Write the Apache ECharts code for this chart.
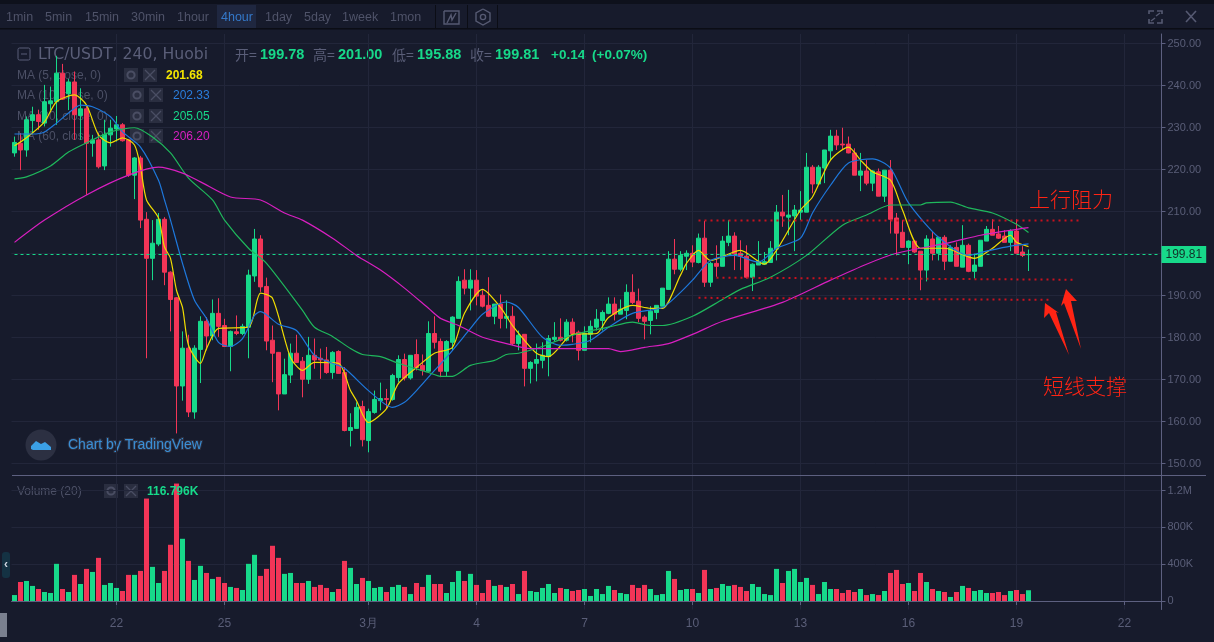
<!DOCTYPE html>
<html>
<head>
<meta charset="utf-8">
<style>html,body{margin:0;padding:0;background:#171b2c;}#main{width:1214px;height:642px;}</style>
<script src="https://cdn.jsdelivr.net/npm/echarts@6/dist/echarts.min.js"></script>
</head>
<body>
<div id="main"></div>
<script>
// 4 hour candles
var opens = [224.0,226.3,224.7,231.7,233.1,231.1,235.7,236.2,243.0,238.1,240.9,232.9,234.5,226.3,227.1,220.9,228.3,229.7,230.7,227.1,
218.7,222.8,208.2,198.9,202.3,208.2,195.6,189.5,168.5,177.5,162.3,177.2,183.9,180.4,185.8,182.9,177.9,181.4,181.0,182.5,
194.7,203.5,192.2,179.4,176.5,166.6,171.1,176.3,174.4,170.1,175.8,175.1,174.7,171.7,176.7,171.7,157.9,158.4,163.6,155.5,
162.2,165.0,165.5,165.3,170.5,174.8,170.4,176.0,173.4,172.0,181.0,179.1,172.0,178.9,184.6,193.7,191.8,193.7,190.1,187.7,
185.1,188.0,184.6,185.1,178.6,180.8,172.7,173.9,174.6,175.5,179.6,180.1,179.4,183.7,181.3,177.0,180.8,182.5,184.1,185.8,
188.0,185.6,186.5,190.8,188.7,184.9,184.1,186.0,187.5,191.5,198.7,196.3,199.4,200.1,197.9,203.7,193.2,197.7,197.0,202.7,
204.2,200.1,199.4,194.4,197.3,197.5,197.9,201.1,209.9,208.7,209.0,209.9,209.9,220.6,216.6,220.4,224.5,228.0,226.1,226.1,
224.0,218.7,219.7,216.8,219.5,213.7,219.9,208.5,205.1,201.5,203.0,200.6,196.1,203.5,200.1,203.9,198.2,201.5,196.8,202.0,
195.8,197.0,203.0,205.8,204.7,204.2,202.7,205.4,200.4,199.78];
var closes = [226.5,224.7,231.9,233.1,231.5,236.2,236.4,243.0,236.8,240.9,233.1,234.5,226.3,227.1,220.7,228.4,229.9,230.7,226.9,218.7,
222.8,208.0,198.9,202.5,208.2,195.6,189.1,168.5,177.5,162.3,177.5,183.9,180.4,185.8,182.7,177.9,181.5,181.0,182.7,194.9,
203.5,192.1,179.2,176.3,166.6,171.2,176.3,174.1,170.1,175.8,174.7,174.7,171.7,176.5,171.5,157.9,158.6,163.4,155.7,162.4,
165.3,165.5,165.3,171.0,174.8,170.4,175.8,172.9,172.2,181.0,178.9,172.0,179.1,184.9,193.4,191.8,193.7,189.9,187.5,185.1,
188.0,184.6,185.1,178.6,180.6,172.7,174.1,174.8,175.8,179.8,180.1,179.4,183.7,181.0,177.0,181.0,182.7,184.4,186.0,188.0,
185.6,186.8,190.8,188.4,184.6,183.9,186.3,187.7,191.8,198.7,196.3,199.6,200.1,198.0,203.7,193.2,197.7,197.0,203.0,204.2,
199.9,199.4,194.4,197.5,198.2,198.1,201.3,209.9,209.0,209.2,210.4,210.4,220.6,216.6,220.6,224.7,228.0,225.9,225.9,224.0,
218.7,219.7,216.8,219.7,213.7,219.9,208.2,204.9,201.5,203.0,200.4,196.1,203.5,200.1,203.9,198.2,201.5,197.0,202.0,195.8,
197.3,203.2,205.8,204.4,203.7,202.7,205.4,200.1,199.6,199.81];
var lows = [223.1,219.9,223.1,228.7,229.5,230.3,234.2,230.7,236.6,234.2,227.1,227.1,214.0,223.1,220.3,219.9,225.5,226.7,226.7,218.3,
213.0,206.1,175.1,193.7,201.8,192.5,181.5,157.2,165.0,161.1,160.7,169.2,177.0,179.4,180.2,177.8,172.0,180.6,180.6,175.1,
193.3,190.9,177.0,169.4,162.7,166.6,169.2,174.1,165.8,169.0,172.6,170.2,171.4,170.2,171.5,157.7,154.1,158.4,154.1,152.7,
161.9,162.7,163.1,165.0,169.4,169.8,170.0,172.2,171.0,172.0,177.4,170.6,170.8,177.0,184.6,190.3,186.5,187.7,187.2,184.9,
183.2,182.2,182.2,178.2,177.0,168.4,169.1,169.6,172.7,170.8,179.1,179.1,179.1,178.9,174.6,177.0,178.9,181.7,181.7,185.6,
184.1,185.6,184.4,188.0,183.7,179.6,180.8,184.4,187.5,191.5,195.1,195.8,196.1,196.8,197.7,192.1,192.1,194.5,197.0,201.8,
196.1,196.1,194.1,191.1,197.3,197.3,197.9,198.4,206.4,204.4,200.6,208.0,209.9,214.4,216.6,216.8,222.3,224.7,224.7,223.9,
218.7,214.9,216.3,214.9,213.7,212.3,204.8,199.6,201.4,197.5,200.2,191.3,193.4,198.4,198.4,196.1,198.2,197.0,196.8,195.6,
194.1,197.0,203.0,204.4,203.5,202.7,200.6,200.1,199.2,195.88];
var highs = [227.9,228.7,232.7,235.0,234.3,240.2,239.8,247.1,245.2,241.6,243.4,239.4,235.2,228.3,228.7,231.9,231.9,232.8,231.1,227.2,
223.0,223.3,209.9,208.0,209.7,208.7,195.8,189.7,181.5,180.7,178.2,185.1,184.9,189.1,189.4,184.5,181.7,185.3,183.3,196.2,
205.9,204.4,194.3,182.9,176.6,175.0,178.6,180.7,175.4,180.2,179.8,177.4,177.8,176.8,177.0,173.0,162.0,164.6,165.0,163.1,
167.4,169.3,167.8,171.4,175.8,176.2,175.8,179.6,176.0,183.9,185.1,179.8,179.4,185.1,194.6,196.3,196.3,196.1,191.3,194.4,
188.0,190.3,188.9,187.5,181.7,180.8,174.4,178.6,178.9,180.6,183.7,184.6,184.4,184.6,181.7,182.7,184.1,186.8,186.5,189.6,
189.6,189.1,192.7,195.1,191.7,185.3,187.5,187.7,191.8,200.6,203.5,200.6,200.8,202.0,204.8,207.8,198.1,202.0,204.2,208.0,
205.1,203.2,202.0,197.7,203.0,200.4,203.0,211.6,214.0,215.2,211.6,214.9,224.0,221.1,221.1,224.7,229.5,229.5,230.0,227.9,
225.1,224.0,222.3,219.9,220.3,219.9,222.3,209.7,208.0,203.2,203.2,200.6,204.4,205.2,204.0,204.4,202.0,202.7,206.8,202.4,
200.0,203.2,206.6,208.2,206.6,205.6,205.8,208.2,201.8,201.0];
// volume in thousands
var volumes = [65,207,218,164,131,98,87,404,131,98,284,185,349,316,469,175,196,142,109,284,
284,327,1113,371,196,327,611,1276,676,436,229,382,305,240,262,196,153,142,120,404,
502,273,349,600,469,295,305,196,196,218,153,175,142,98,131,436,360,185,251,218,
142,153,98,153,175,153,76,196,153,284,185,185,87,207,327,218,295,175,87,229,
164,175,153,185,76,327,109,98,142,185,87,142,131,109,120,131,55,131,76,164,
120,87,76,175,142,175,131,65,76,327,240,120,131,131,87,338,131,142,185,164,
175,153,109,185,153,76,65,349,196,327,349,207,251,175,76,207,131,131,87,120,
98,131,65,76,65,109,305,338,185,196,109,305,207,131,109,98,44,98,164,142,
109,120,87,87,98,65,109,120,76,117];

// moving averages, read at the bar positions in the *Idx lists
var ma5Idx = [0,2,5,7,10,12,14,16,18,20,21,22,24,25,26,27,28,29,31,32,34,39,41,43,46,48,50,54,56,57,59,62,64,67,70,73,75,78,81,83,87,89,93,97,99,103,106,108,111,112,114,116,121,125,127,131,133,136,139,141,143,146,148,151,155,160,163,166,167,169];
var ma5 = [225.7,227.6,231.4,236.2,237.8,235.4,228.3,226.4,227.6,225.9,220.6,212.8,208.5,201.6,198.9,191.3,187.2,178.2,173.9,177.4,182.2,182.5,190.6,189.4,175.3,172.2,174.1,173.9,167.4,165.0,159.8,163.1,169.1,172.9,176.3,177.7,185.8,191.5,187.2,182.9,176.3,175.5,180.8,181.0,184.8,187.7,187.0,187.0,194.9,197.7,200.8,198.4,200.8,197.5,200.8,210.4,213.5,222.3,225.4,222.3,219.5,217.5,210.4,201.3,201.3,198.9,201.3,204.4,202.7,201.68];
var ma10Idx = [0,3,5,7,9,11,13,16,18,21,24,25,26,28,30,32,34,36,38,40,41,44,47,50,53,55,59,63,65,67,70,72,76,78,82,84,88,91,93,96,99,103,108,111,113,116,120,124,127,131,133,136,139,143,146,149,154,159,162,166,169];
var ma10 = [228.5,228.5,229.0,231.1,233.5,235.4,235.0,232.6,229.0,225.4,217.5,212.8,208.0,197.7,188.9,184.6,178.9,177.9,179.8,185.3,186.2,183.2,181.7,175.8,173.9,172.7,167.4,163.4,164.6,167.4,172.2,175.3,182.2,185.6,188.5,187.2,180.1,178.2,178.4,179.4,182.5,185.8,187.2,190.8,193.7,198.4,199.6,198.0,201.3,203.7,209.7,216.3,221.6,222.6,220.4,212.1,203.9,199.6,200.6,201.8,202.33];
var ma30Idx = [0,2,6,9,12,16,20,23,26,29,33,35,39,42,48,50,53,56,58,61,64,69,71,73,76,80,82,84,88,91,94,99,103,106,108,113,118,121,126,132,138,142,146,151,152,156,159,163,167,169];
var ma30 = [217.8,218.3,220.9,224.2,226.4,229.0,230.0,227.8,224.0,218.0,212.8,208.0,201.3,197.7,186.5,182.5,180.3,177.4,176.0,175.5,173.9,171.7,170.8,170.8,173.4,174.6,176.0,176.3,177.9,179.6,181.0,182.5,183.7,182.9,182.9,185.1,189.1,191.5,194.4,199.6,206.8,209.2,211.6,211.6,212.1,212.3,210.9,209.7,207.0,205.05];
var ma60Idx = [0,5,12,19,24,28,31,36,41,45,48,53,57,61,65,69,71,74,78,82,86,99,101,105,109,113,118,128,136,142,147,156,161,167,169];
var ma60 = [202.7,208.0,214.0,218.7,220.6,219.2,217.1,213.5,212.8,209.7,208.0,203.7,199.6,196.1,191.8,187.0,184.6,182.9,180.1,178.6,177.4,177.4,176.7,177.7,178.6,180.8,183.9,188.4,193.7,197.5,200.1,202.7,204.4,205.8,206.2];

var slotCount = 192;
var tickIndex = [17,35,59,77,95,113,131,149,167,185];
var tickLabels = ['22','25','3月','4','7','10','13','16','19','22'];
var priceTicks = [150,160,170,180,190,200,210,220,230,240,250];
var volumeTicks = [0,400,800,1200];
var volumeTickLabels = ['0','400K','800K','1.2M'];
var lastPrice = 199.81;
// the three hand drawn levels: [startIdx, startPrice, endIdx, endPrice]
var resistanceLine = [114,207.9,178,207.9];
var supportLine1 = [117,194.3,177,193.8];
var supportLine2 = [114,189.5,173,189.0];

var upColor = '#17d98a', downColor = '#f23557', gridColor = '#22263a', mutedColor = '#5a5e78', lineColor = '#5d6080', noteColor = '#ff2414';

var categories = [];
for (var i = 0; i < slotCount; i++) {
    var t = tickIndex.indexOf(i);
    categories.push(t >= 0 ? tickLabels[t] : '');
}
function isTick(idx){ return tickIndex.indexOf(idx) >= 0; }

var candleData = [];
var volumeData = [];
for (var j = 0; j < opens.length; j++) {
    candleData.push([opens[j], closes[j], lows[j], highs[j]]);
    volumeData.push({value: volumes[j], itemStyle: {color: closes[j] >= opens[j] ? upColor : downColor}});
}
function pairs(idx, vals){
    return idx.map(function(v, k){ return [v, vals[k]]; });
}
function maSeries(name, idx, vals, color){
    return {name: name, type: 'line', data: pairs(idx, vals), showSymbol: false, symbol: 'none', smooth: 0.25,
        z: 4, lineStyle: {color: color, width: 1.2}, silent: true};
}
function levelSeries(l){
    return {type: 'line', data: [[l[0], l[1]], [l[2], l[3]]], symbol: 'none', z: 5, silent: true,
        lineStyle: {color: '#c9121e', width: 2, type: [2, 4]}};
}

// screen furniture: toolbar, legends, logo, hand drawn notes
var g = [];
function rect(x, y, w, h, fill, z){ g.push({type: 'rect', shape: {x: x, y: y, width: w, height: h}, style: {fill: fill}, z: z || 0, silent: true}); }
function text(s, x, y, fill, font, z){ g.push({type: 'text', style: {text: s, x: x, y: y + 1, fill: fill, font: font, verticalAlign: 'middle'}, z: z || 0, silent: true}); }
function poly(points, stroke, w, z){ g.push({type: 'polyline', shape: {points: points}, style: {stroke: stroke, lineWidth: w, fill: null}, z: z || 0, silent: true}); }
function buttons(x1, x2, y){
    [x1, x2].forEach(function(x){ rect(x, y - 7, 14, 14, '#2a2e40', 0); });
    g.push({type: 'circle', shape: {cx: x1 + 7, cy: y, r: 3.6}, style: {fill: null, stroke: '#4a4e63', lineWidth: 2}, silent: true});
    poly([[x2 + 2, y - 5], [x2 + 12, y + 5]], '#4a4e63', 1.3);
    poly([[x2 + 12, y - 5], [x2 + 2, y + 5]], '#4a4e63', 1.3);
}
rect(0, 0, 1214, 4, '#0e111c', 10);
rect(0, 28, 1214, 1.5, '#0b0d15', 10);
rect(217, 5, 39, 23, '#1f2740', 1);
[['1min',6],['5min',45],['15min',85],['30min',131],['1hour',177],['4hour',221],['1day',265],['5day',304],['1week',342],['1mon',390]].forEach(function(b){
    text(b[0], b[1], 17, b[0] === '4hour' ? '#3478c8' : '#4f5369', '12.5px "Liberation Sans"', 10);
});
[435, 467, 497].forEach(function(x){ rect(x, 5, 1, 23, '#0b0d15', 10); });
poly([[444, 11], [459, 11], [459, 24], [444, 24], [444, 11]], '#565a72', 1.4, 10);
poly([[447, 23], [451, 15], [452, 20], [456, 13]], '#565a72', 1.4, 10);
poly([[483, 9], [490, 13], [490, 21], [483, 25], [476, 21], [476, 13], [483, 9]], '#565a72', 1.4, 10);
g.push({type: 'circle', shape: {cx: 483, cy: 17, r: 2.6}, style: {fill: null, stroke: '#565a72', lineWidth: 1.4}, z: 10, silent: true});
poly([[1149, 14], [1149, 11], [1154, 11]], '#565a72', 1.6, 10);
poly([[1157, 11], [1162, 11], [1162, 14]], '#565a72', 1.6, 10);
poly([[1149, 19], [1149, 23], [1154, 23]], '#565a72', 1.6, 10);
poly([[1162, 19], [1162, 23], [1157, 23]], '#565a72', 1.6, 10);
poly([[1151, 21], [1155, 18]], '#565a72', 1.4, 10);
poly([[1160, 13], [1156, 16]], '#565a72', 1.4, 10);
poly([[1186, 11], [1196, 22]], '#565a72', 1.6, 10);
poly([[1196, 11], [1186, 22]], '#565a72', 1.6, 10);

// pane separator
rect(12, 475, 1194, 1, lineColor, 1);

// legend
g.push({type: 'rect', shape: {x: 18, y: 48, width: 12, height: 12, r: 1.5}, style: {fill: null, stroke: '#5a5e78', lineWidth: 1}, silent: true});
poly([[21, 54], [27, 54]], '#5a5e78', 1);
text('LTC/USDT, 240, Huobi', 38, 54, '#5a5e78', '15.7px "DejaVu Sans"');
var headTextFont = '14px "Noto Sans CJK SC"', headValFont = 'bold 14.5px "Liberation Sans"', headChgFont = 'bold 13.5px "Liberation Sans"';
text('开=', 235, 54, mutedColor, headTextFont); text('199.78', 260, 54, upColor, headValFont);
text('高=', 313, 54, mutedColor, headTextFont); text('201.00', 338, 54, upColor, headValFont);
text('低=', 392, 54, mutedColor, headTextFont); text('195.88', 417, 54, upColor, headValFont);
text('收=', 470, 54, mutedColor, headTextFont); text('199.81', 495, 54, upColor, headValFont);
text('+0.14', 551, 54, upColor, headChgFont); text('(+0.07%)', 592, 54, upColor, headChgFont);

var maFont = '12px "Liberation Sans"', maValFont = 'bold 12px "Liberation Sans"';
text('MA (5, close, 0)', 17, 75, '#4c5066', maFont);    buttons(124, 143, 75); text('201.68', 166, 75, '#f4e600', maValFont);
text('MA (10, close, 0)', 17, 95, '#4c5066', maFont);   buttons(130, 149, 95); text('202.33', 173, 95, '#2a7ddc', maFont);
text('MA (30, close, 0)', 17, 116, '#4c5066', maFont);  buttons(130, 149, 116); text('205.05', 173, 116, '#17d98a', maFont);
text('MA (60, close, 0)', 17, 136, '#4c5066', maFont);  buttons(130, 149, 136); text('206.20', 173, 136, '#d81fc0', maFont);
text('Volume (20)', 17, 491, '#4c5066', maFont);        buttons(104, 124, 491); text('116.796K', 147, 491, upColor, maValFont, 10);

// logo
g.push({type: 'circle', shape: {cx: 41, cy: 445, r: 15.5}, style: {fill: '#2c3042'}, silent: true});
g.push({type: 'polygon', shape: {points: [[31, 449], [31, 446], [36, 441], [41, 444], [45, 442], [51, 447], [51, 450], [33, 450]]}, style: {fill: '#3ba0e6'}, silent: true});
g.push({type: 'text', style: {text: 'Chart by TradingView', x: 68, y: 445, fill: '#3a8fd6', font: '14px "Liberation Sans"', verticalAlign: 'middle', stroke: '#2c3042', lineWidth: 2}, silent: true});

// left edge scraps
g.push({type: 'rect', shape: {x: 2, y: 552, width: 8, height: 26, r: 3}, style: {fill: '#143243'}, silent: true});
text('‹', 4, 564, '#d0d6e0', 'bold 12px "Liberation Sans"');
rect(0, 613, 7, 24, '#7a808f', 1);

// notes
text('上行阻力', 1029, 198, noteColor, '300 21px "Noto Sans CJK SC"', 20);
text('短线支撑', 1043, 385, noteColor, '300 21px "Noto Sans CJK SC"', 20);
g.push({type: 'polygon', shape: {points: [[1045, 303], [1044, 318], [1049, 313], [1069, 355], [1056, 312], [1059, 313]]}, style: {fill: noteColor}, z: 20, silent: true});
g.push({type: 'polygon', shape: {points: [[1066, 289], [1061, 306], [1064, 303], [1081, 349], [1071, 301], [1077, 301]]}, style: {fill: noteColor}, z: 20, silent: true});

var option = {
    animation: false,
    backgroundColor: '#171b2c',
    graphic: {elements: g},
    grid: [
        {left: 11.5, width: 1152, top: 34, height: 441},
        {left: 11.5, width: 1152, top: 476, height: 133.5}
    ],
    xAxis: [
        {type: 'category', gridIndex: 0, data: categories, boundaryGap: true,
            axisLine: {show: false}, axisTick: {show: false}, axisLabel: {show: false},
            splitLine: {show: true, interval: isTick, alignWithLabel: true, lineStyle: {color: gridColor}}},
        {type: 'category', gridIndex: 1, data: categories, boundaryGap: true,
            axisLine: {lineStyle: {color: lineColor}},
            axisTick: {show: true, length: 4, interval: isTick, alignWithLabel: true, lineStyle: {color: lineColor}},
            axisLabel: {interval: isTick, color: '#5a5e78', fontSize: 12, fontFamily: 'Liberation Sans', margin: 8},
            splitLine: {show: true, interval: isTick, alignWithLabel: true, lineStyle: {color: gridColor}}}
    ],
    yAxis: [
        {type: 'value', gridIndex: 0, position: 'right', offset: -2, min: 147.30, max: 252.32, scale: true,
            axisLine: {show: true, onZero: false, lineStyle: {color: lineColor}},
            axisTick: {show: true, length: 4, customValues: priceTicks, lineStyle: {color: lineColor}},
            axisLabel: {customValues: priceTicks, color: '#5a5e78', fontSize: 11, fontFamily: 'Liberation Sans', margin: 6, padding: [3, 0, 0, 0],
                formatter: function(v){ return v.toFixed(2); }},
            splitLine: {show: true, customValues: priceTicks, lineStyle: {color: gridColor}}},
        {type: 'value', gridIndex: 1, position: 'right', offset: -2, min: -92, max: 1358,
            axisLine: {show: true, onZero: false, lineStyle: {color: lineColor}},
            axisTick: {show: true, length: 4, customValues: volumeTicks, lineStyle: {color: lineColor}},
            axisLabel: {customValues: volumeTicks, color: '#5a5e78', fontSize: 11, fontFamily: 'Liberation Sans', margin: 6, padding: [3, 0, 0, 0],
                formatter: function(v){ return volumeTickLabels[volumeTicks.indexOf(v)]; }},
            splitLine: {show: true, customValues: volumeTicks, lineStyle: {color: gridColor}}}
    ],
    series: [
        {name: 'LTC/USDT', type: 'candlestick', xAxisIndex: 0, yAxisIndex: 0, data: candleData, barWidth: 4, z: 3, silent: true,
            itemStyle: {color: upColor, color0: downColor, borderColor: upColor, borderColor0: downColor, borderWidth: 1}},
        maSeries('MA5', ma5Idx, ma5, '#f0dc00'),
        maSeries('MA10', ma10Idx, ma10, '#1e78dc'),
        maSeries('MA30', ma30Idx, ma30, '#1fb85c'),
        maSeries('MA60', ma60Idx, ma60, '#d81fc0'),
        levelSeries(resistanceLine),
        levelSeries(supportLine1),
        levelSeries(supportLine2),
        {name: 'Last', type: 'line', xAxisIndex: 0, yAxisIndex: 0, data: [[0, lastPrice], [slotCount - 1, lastPrice]], symbol: 'none', z: 6, silent: true,
            lineStyle: {color: upColor, type: [3, 3], width: 1},
            markLine: {silent: true, symbol: 'none', animation: false, z: 6,
                label: {show: true, position: 'end', formatter: '199.81', color: '#123028', fontSize: 12, fontFamily: 'Liberation Sans',
                    backgroundColor: upColor, padding: [3, 4, 2, 4], distance: -2},
                data: [{yAxis: lastPrice, lineStyle: {color: 'transparent', width: 0}}]}},
        {name: 'Volume', type: 'bar', xAxisIndex: 1, yAxisIndex: 1, data: volumeData, barWidth: 5, silent: true}
    ]
};
echarts.init(document.getElementById('main')).setOption(option);
</script>
</body>
</html>
